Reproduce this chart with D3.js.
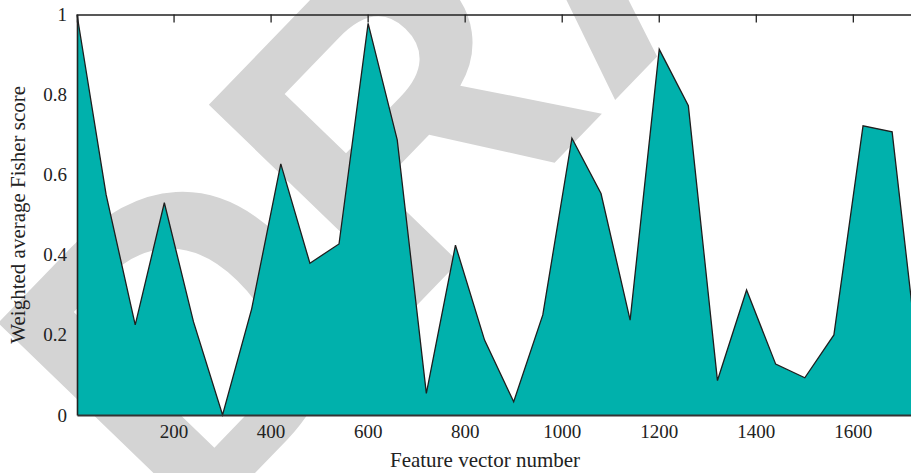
<!DOCTYPE html>
<html>
<head>
<meta charset="utf-8">
<script src="https://cdn.jsdelivr.net/npm/d3@7/dist/d3.min.js"></script>
<style>
  html,body{margin:0;padding:0;background:#fff}
  svg{display:block;overflow:hidden}
  .tick text{font-family:"Liberation Serif",serif;font-size:19px;fill:#222}
</style>
</head>
<body>
<svg id="chart" width="911" height="473"></svg>
<script>
// feature vector numbers along the x axis
const featureVector = [1,61,121,181,241,301,361,421,481,541,601,661,721,781,841,901,961,1021,1081,1141,1201,1261,1321,1381,1441,1501,1561,1621,1681,1741]
// weighted average Fisher score at each one
const fisherScore = [1.0,0.55,0.225,0.53,0.233,0.0,0.265,0.627,0.379,0.427,0.978,0.687,0.054,0.424,0.187,0.033,0.25,0.691,0.553,0.237,0.913,0.772,0.086,0.312,0.127,0.093,0.2,0.722,0.707,0.07]
const xTicks = [200,400,600,800,1000,1200,1400,1600]
const yTicks = [0,0.2,0.4,0.6,0.8,1]

const svg = d3.select('#chart')
const mLeft = 77, mTop = 14.5, mBottom = 415
const x = d3.scaleLinear().domain([1,1741]).range([mLeft,mLeft+1740*0.4852])
const y = d3.scaleLinear().domain([0,1]).range([mBottom,mTop])

// watermark behind everything
svg.append('text')
  .attr('transform','translate(575,-70) rotate(-46)')
  .attr('text-anchor','middle').attr('dy','0.35em')
  .style('font-family','"Liberation Sans",sans-serif').style('font-weight','bold')
  .style('font-size','420px').style('fill','#d4d4d4')
  .text('DRAFT')

const pts = featureVector.map((v,i)=>[v,fisherScore[i]])
svg.append('path').datum(pts)
  .attr('fill','#00b1ac')
  .attr('d',d3.area().x(d=>x(d[0])).y0(y(0)).y1(d=>y(d[1])))
svg.append('path').datum(pts)
  .attr('fill','none').attr('stroke','#1e1e1e').attr('stroke-width',1.3).attr('stroke-linejoin','miter')
  .attr('d',d3.line().x(d=>x(d[0])).y(d=>y(d[1])))

const gx = svg.append('g').attr('transform',`translate(0,${mBottom})`)
  .call(d3.axisBottom(x).tickValues(xTicks).tickSize(0).tickPadding(10).tickFormat(d3.format('d')))
gx.select('.domain').attr('stroke','#333').attr('stroke-width',2.2)

const gt = svg.append('g').attr('transform',`translate(0,${mTop})`)
  .call(d3.axisTop(x).tickValues(xTicks).tickSize(-8).tickFormat(''))
gt.select('.domain').attr('stroke','#222').attr('stroke-width',1.5)
gt.selectAll('.tick line').attr('stroke','#222').attr('stroke-width',1.3)

const gy = svg.append('g').attr('transform',`translate(${mLeft},0)`)
  .call(d3.axisLeft(y).tickValues(yTicks).tickSize(0).tickPadding(10).tickFormat(d3.format('~g')))
gy.select('.domain').attr('stroke','#222').attr('stroke-width',1.6)

svg.append('text')
  .attr('x',485).attr('y',467)
  .attr('text-anchor','middle')
  .style('font-family','"Liberation Serif",serif').style('font-size','21px').style('fill','#222')
  .text('Feature vector number')
svg.append('text')
  .attr('transform',`translate(25,${(mTop+mBottom)/2}) rotate(-90)`)
  .attr('text-anchor','middle')
  .style('font-family','"Liberation Serif",serif').style('font-size','21px').style('fill','#222')
  .text('Weighted average Fisher score')
</script>
</body>
</html>
